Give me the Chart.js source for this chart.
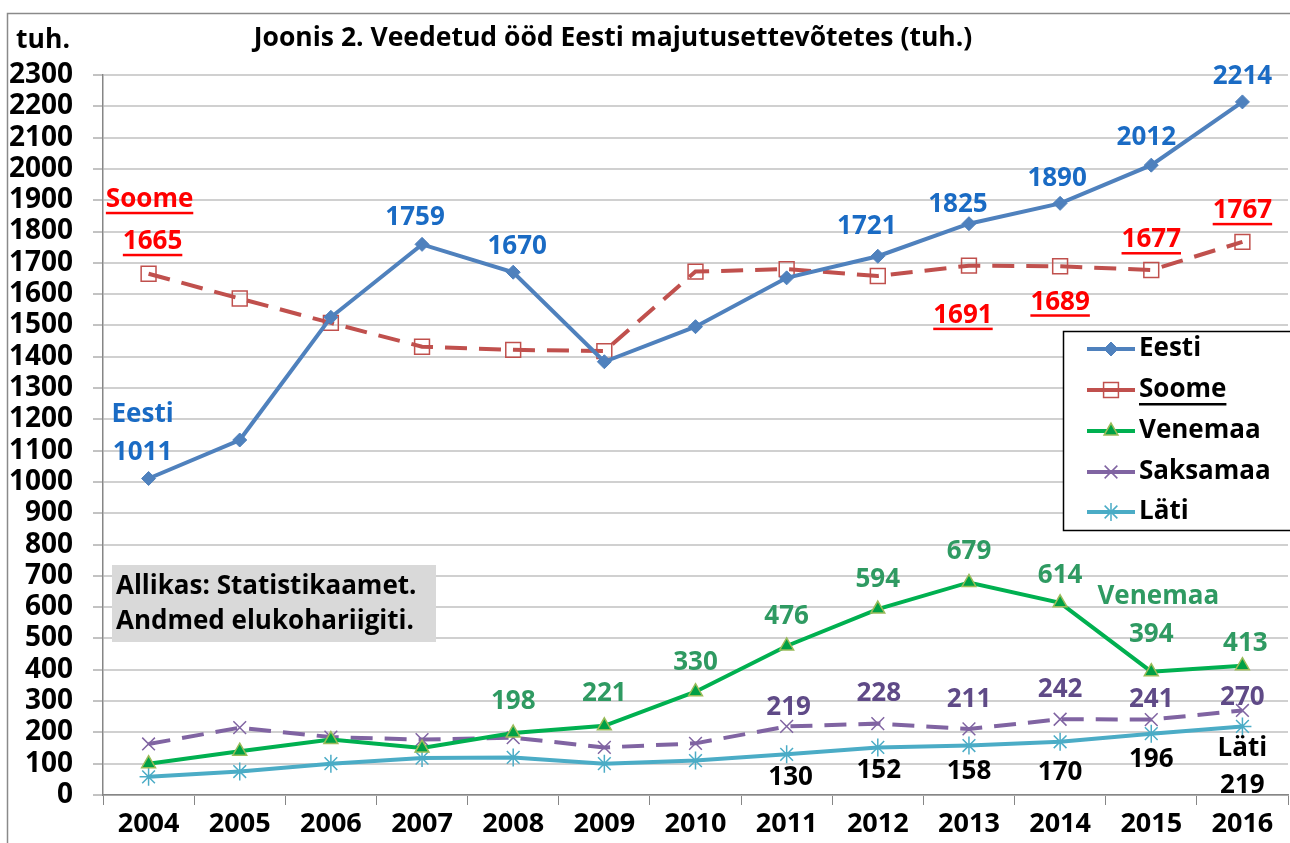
<!DOCTYPE html>
<html>
<head>
<meta charset="utf-8">
<script src="https://cdn.jsdelivr.net/npm/chart.js@4.4.0/dist/chart.umd.min.js"></script>
<style>
  html, body { margin: 0; padding: 0; background: #fff; overflow: hidden; }
  #wrap { width: 1300px; height: 843px; }
</style>
</head>
<body>
<div id="wrap"><canvas id="chart" width="1300" height="843"></canvas></div>
<script>
// Data
var years = ["2004", "2005", "2006", "2007", "2008", "2009", "2010", "2011", "2012", "2013", "2014", "2015", "2016"];
var eesti = [1011, 1134, 1526, 1759, 1670, 1384, 1496, 1652, 1721, 1825, 1890, 2012, 2214];
var soome = [1665, 1586, 1508, 1432, 1422, 1418, 1672, 1680, 1658, 1691, 1689, 1677, 1767];
var venemaa = [100, 140, 177, 150, 198, 221, 330, 476, 594, 679, 614, 394, 413];
var saksamaa = [163, 215, 185, 177, 183, 152, 165, 219, 228, 211, 242, 241, 270];
var lati = [58, 75, 100, 118, 120, 100, 110, 130, 152, 158, 170, 196, 219];
var yMax = 2300;
var yStep = 100;

var FONT = "'Open Sans', Lato, sans-serif";

// Value labels: which points get a number, and where it sits relative to the point
var valueLabels = [
  // Eesti
  { ds: 0, color: "#1a6bc4", items: [
    { i: 0, dx: -6, dy: -26 }, { i: 3, dx: -7, dy: -27 }, { i: 4, dx: 4, dy: -26 },
    { i: 8, dx: -11, dy: -30 }, { i: 9, dx: -11, dy: -19 }, { i: 10, dx: -3, dy: -25 },
    { i: 11, dx: -5, dy: -28 }, { i: 12, dx: 0, dy: -25 }
  ], names: [{ i: 0, text: "Eesti", dx: -6, dy: -64 }] },
  // Soome
  { ds: 1, color: "#ff0000", underline: true, items: [
    { i: 0, dx: 4, dy: -32 }, { i: 9, dx: -6, dy: 50 }, { i: 10, dx: 0, dy: 36 },
    { i: 11, dx: 0, dy: -30 }, { i: 12, dx: 0, dy: -31 }
  ], names: [{ i: 0, text: "Soome", dx: 1, dy: -74 }] },
  // Venemaa
  { ds: 2, color: "#2f9a62", items: [
    { i: 4, dx: 0, dy: -31 }, { i: 5, dx: 0, dy: -32 }, { i: 6, dx: 0, dy: -29 },
    { i: 7, dx: 0, dy: -29 }, { i: 8, dx: 0, dy: -29 }, { i: 9, dx: 0, dy: -31 },
    { i: 10, dx: 0, dy: -27 }, { i: 11, dx: 0, dy: -37 }, { i: 12, dx: 3, dy: -22 }
  ], names: [{ i: 11, text: "Venemaa", dx: 7, dy: -75 }] },
  // Saksamaa
  { ds: 3, color: "#5f4a87", items: [
    { i: 7, dx: 2, dy: -19 }, { i: 8, dx: 1, dy: -30 }, { i: 9, dx: 0, dy: -29 },
    { i: 10, dx: 0, dy: -30 }, { i: 11, dx: 0, dy: -20 }, { i: 12, dx: 0, dy: -13 }
  ], names: [] },
  // Läti
  { ds: 4, color: "#000000", items: [
    { i: 7, dx: 4, dy: 23 }, { i: 8, dx: 1, dy: 23 }, { i: 9, dx: 0, dy: 26 },
    { i: 10, dx: 0, dy: 31 }, { i: 11, dx: 0, dy: 26 }, { i: 12, dx: 0, dy: 59 }
  ], names: [{ i: 12, text: "Läti", dx: 0, dy: 22 }] }
];

function drawText(ctx, text, x, y, color, underline) {
  ctx.fillStyle = color;
  ctx.fillText(text, x, y);
  if (underline) {
    var w = ctx.measureText(text).width;
    ctx.fillRect(x - w / 2, y + 12, w, 2.5);
  }
}

// Labels, title, legend and note
var decorPlugin = {
  id: "decor",
  beforeDraw: function (chart) {
    var ctx = chart.ctx;
    ctx.save();
    ctx.fillStyle = "#ffffff";
    ctx.fillRect(0, 0, chart.width, chart.height);
    ctx.strokeStyle = "#8a8a8a";
    ctx.lineWidth = 1.5;
    ctx.strokeRect(7.5, 13.5, 1400, 900);
    ctx.restore();
  },
  afterDatasetsDraw: function (chart) {
    var ctx = chart.ctx;
    ctx.save();
    ctx.textAlign = "center";
    ctx.textBaseline = "middle";
    ctx.font = "bold 26px " + FONT;
    valueLabels.forEach(function (spec) {
      var meta = chart.getDatasetMeta(spec.ds);
      var data = chart.data.datasets[spec.ds].data;
      spec.items.forEach(function (it) {
        var p = meta.data[it.i];
        drawText(ctx, String(data[it.i]), p.x + it.dx, p.y + it.dy, spec.color, spec.underline);
      });
      spec.names.forEach(function (it) {
        var p = meta.data[it.i];
        drawText(ctx, it.text, p.x + it.dx, p.y + it.dy, spec.color, spec.underline);
      });
    });

    // title and unit
    ctx.fillStyle = "#000";
    ctx.font = "bold 26.5px " + FONT;
    ctx.fillText("Joonis 2. Veedetud ööd Eesti majutusettevõtetes (tuh.)", 613, 38);
    ctx.fillText("tuh.", 43, 40);

    // source note
    ctx.fillStyle = "#d9d9d9";
    ctx.fillRect(112, 565, 324, 77);
    ctx.fillStyle = "#000";
    ctx.textAlign = "left";
    ctx.font = "bold 26px " + FONT;
    ctx.fillText("Allikas: Statistikaamet.", 116, 587);
    ctx.fillText("Andmed elukohariigiti.", 116, 622);

    // legend
    ctx.fillStyle = "#fff";
    ctx.fillRect(1063, 331, 300, 200);
    ctx.strokeStyle = "#000";
    ctx.lineWidth = 1.5;
    ctx.strokeRect(1063.5, 331.5, 300, 199);
    var rows = [349, 390, 431, 472, 512];
    chart.data.datasets.forEach(function (ds, k) {
      var y = rows[k];
      ctx.strokeStyle = ds.borderColor;
      ctx.lineWidth = ds.borderWidth;
      ctx.setLineDash([]);
      ctx.beginPath();
      ctx.moveTo(1087, y);
      ctx.lineTo(1135, y);
      ctx.stroke();
      ctx.fillStyle = ds.pointBackgroundColor;
      ctx.strokeStyle = ds.pointBorderColor;
      ctx.lineWidth = ds.pointBorderWidth;
      Chart.helpers.drawPoint(ctx, {
        pointStyle: ds.pointStyle,
        radius: ds.pointRadius,
        rotation: 0,
        borderWidth: ds.pointBorderWidth
      }, 1111, y);
      ctx.fillStyle = "#000";
      ctx.font = "bold 26px " + FONT;
      ctx.fillText(ds.label, 1139, y);
      if (k === 1) {
        var w = ctx.measureText(ds.label).width;
        ctx.fillRect(1139, y + 13, w, 2.5);
      }
    });
    ctx.restore();
  }
};

var ctx1 = document.getElementById("chart").getContext("2d");
var myChart = new Chart(ctx1, {
  type: "line",
  data: {
    labels: years,
    datasets: [
      {
        label: "Eesti",
        data: eesti,
        borderColor: "#4f81bd",
        borderWidth: 4,
        pointStyle: "rectRot",
        pointRadius: 7,
        pointBackgroundColor: "#4f81bd",
        pointBorderColor: "#4f81bd",
        pointBorderWidth: 1
      },
      {
        label: "Soome",
        data: soome,
        borderColor: "#c0504d",
        borderWidth: 4,
        borderDash: [22, 12],
        pointStyle: "rect",
        pointRadius: 10.5,
        pointBackgroundColor: "rgba(0,0,0,0)",
        pointBorderColor: "#c0504d",
        pointBorderWidth: 1.5
      },
      {
        label: "Venemaa",
        data: venemaa,
        borderColor: "#00b050",
        borderWidth: 4,
        pointStyle: "triangle",
        pointRadius: 8,
        pointBackgroundColor: "#00a046",
        pointBorderColor: "#9bbb59",
        pointBorderWidth: 1.5
      },
      {
        label: "Saksamaa",
        data: saksamaa,
        borderColor: "#8064a2",
        borderWidth: 4,
        borderDash: [22, 12],
        pointStyle: "crossRot",
        pointRadius: 9,
        pointBackgroundColor: "#8064a2",
        pointBorderColor: "#8064a2",
        pointBorderWidth: 1.5
      },
      {
        label: "Läti",
        data: lati,
        borderColor: "#4bacc6",
        borderWidth: 4,
        pointStyle: "star",
        pointRadius: 9,
        pointBackgroundColor: "#4bacc6",
        pointBorderColor: "#4bacc6",
        pointBorderWidth: 1.5
      }
    ]
  },
  options: {
    responsive: false,
    animation: false,
    layout: { padding: { left: 0, right: 7.5, top: 75, bottom: 0 } },
    plugins: {
      legend: { display: false },
      tooltip: { enabled: false }
    },
    scales: {
      x: {
        offset: true,
        afterFit: function (scale) { scale.height = 48; },
        grid: {
          offset: true,
          drawOnChartArea: false,
          drawTicks: true,
          tickLength: 10,
          color: "#868686",
          lineWidth: 1
        },
        border: { display: true, color: "#868686", width: 1.5 },
        ticks: {
          color: "#000",
          padding: 3,
          maxRotation: 0,
          autoSkip: false,
          font: { family: FONT, size: 27, weight: "bold" }
        }
      },
      y: {
        min: 0,
        max: yMax,
        afterFit: function (scale) { scale.width = 103; },
        grid: {
          color: "#d0d0d0",
          lineWidth: 2,
          tickLength: 10,
          tickColor: "#868686",
          tickWidth: 1
        },
        border: { display: true, color: "#868686", width: 1.5 },
        ticks: {
          stepSize: yStep,
          autoSkip: false,
          color: "#000",
          padding: 20,
          font: { family: FONT, size: 28, weight: "bold" },
          callback: function (value) { return String(value); }
        }
      }
    }
  },
  plugins: [decorPlugin]
});
</script>
</body>
</html>
